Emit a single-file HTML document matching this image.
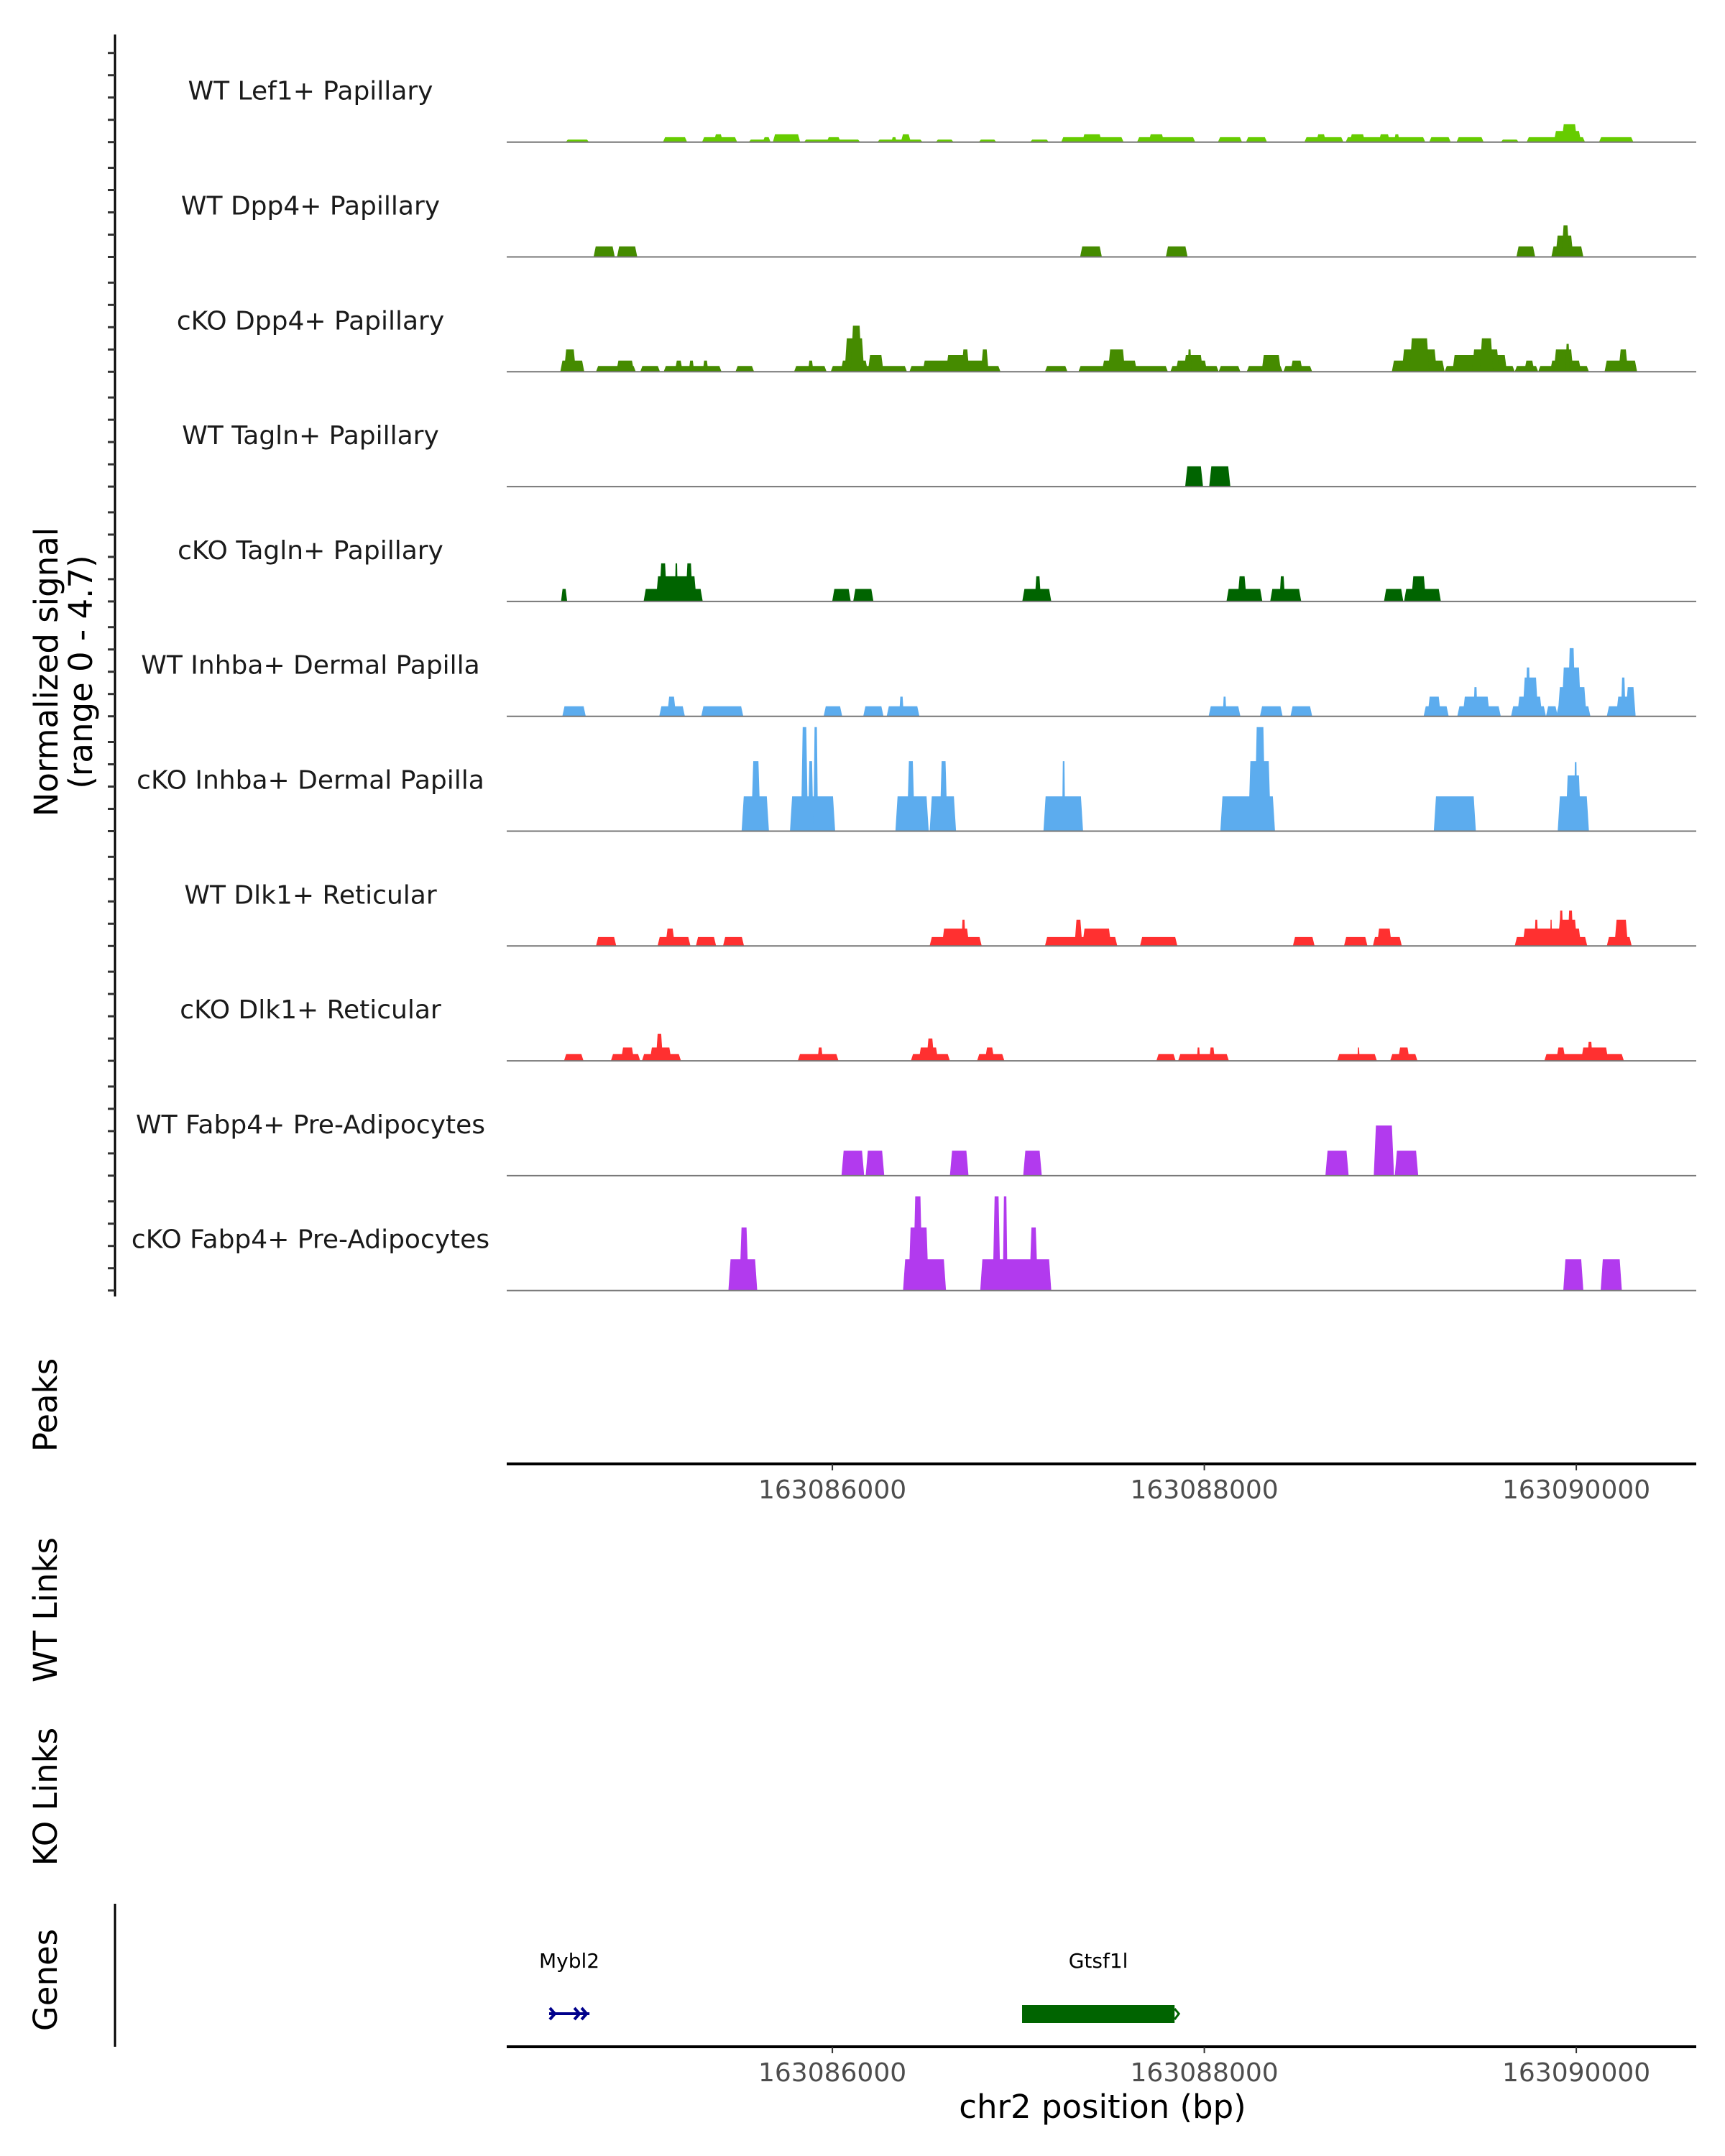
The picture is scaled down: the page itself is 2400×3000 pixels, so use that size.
<!DOCTYPE html>
<html><head><meta charset="utf-8">
<style>
html,body{margin:0;padding:0;background:#fff;}
svg{display:block;font-family:"DejaVu Sans","Liberation Sans",sans-serif;}
</style></head>
<body>
<svg id="chart" width="2400" height="3000" viewBox="0 0 2400 3000" xmlns="http://www.w3.org/2000/svg">
  <rect width="2400" height="3000" fill="#fff"/>
  <g id="tracks"></g>
  <g id="yaxis"></g>
  <text transform="translate(80,935) rotate(-90)" text-anchor="middle" font-size="45" fill="#000">Normalized signal</text>
  <text transform="translate(128,935) rotate(-90)" text-anchor="middle" font-size="45" fill="#000">(range 0 - 4.7)</text>
  <text transform="translate(79,1955) rotate(-90)" text-anchor="middle" font-size="45" fill="#000">Peaks</text>
  <text transform="translate(79,2240) rotate(-90)" text-anchor="middle" font-size="45" fill="#000">WT Links</text>
  <text transform="translate(79,2500) rotate(-90)" text-anchor="middle" font-size="45" fill="#000">KO Links</text>
  <text transform="translate(79,2755) rotate(-90)" text-anchor="middle" font-size="45" fill="#000">Genes</text>
  <line x1="160" y1="2649" x2="160" y2="2848" stroke="#000" stroke-width="3"/>
  <g id="xaxes"></g>
  <g id="genes"></g>
  <text x="1534" y="2947" text-anchor="middle" font-size="45" fill="#000">chr2 position (bp)</text>
</svg>
<script>
// genomic positions are bp offsets from chr2:163084000
const regionStart = 163084000;
const domainStart = 249, domainEnd = 6645;
const xTicks = [2000, 4000, 6000];
const xTickLabels = ["163086000", "163088000", "163090000"];
const trackNames = ["WT Lef1+ Papillary","WT Dpp4+ Papillary","cKO Dpp4+ Papillary","WT Tagln+ Papillary","cKO Tagln+ Papillary","WT Inhba+ Dermal Papilla","cKO Inhba+ Dermal Papilla","WT Dlk1+ Reticular","cKO Dlk1+ Reticular","WT Fabp4+ Pre-Adipocytes","cKO Fabp4+ Pre-Adipocytes"];
const trackColors = ["#66cc00","#458b00","#458b00","#006400","#006400","#5cacee","#5cacee","#ff3030","#ff3030","#b23aee","#b23aee"];
// [start, end, signal]
const lef1Wt = [[566,692,0.11],[1089,1219,0.22],[1299,1488,0.22],[1362,1412,0.35],[1550,1668,0.11],[1625,1668,0.22],[1680,1827,0.35],[1847,2150,0.11],[1969,2045,0.22],[2242,2485,0.11],[2317,2346,0.22],[2368,2422,0.35],[2556,2652,0.11],[2787,2882,0.11],[3063,3164,0.11],[3230,3566,0.22],[3343,3449,0.35],[3638,3951,0.22],[3700,3784,0.35],[4073,4203,0.22],[4224,4337,0.22],[4538,4748,0.22],[4601,4655,0.35],[4760,5188,0.22],[4781,4865,0.35],[4937,4999,0.35],[5020,5050,0.35],[5209,5325,0.22],[5356,5502,0.22],[5594,5691,0.11],[5733,6047,0.22],[5879,6026,0.5],[5921,6005,0.8],[6122,6307,0.22]];
const dpp4Wt = [[716,830,0.47],[842,951,0.47],[3332,3449,0.47],[3793,3910,0.47],[5678,5779,0.47],[5866,6038,0.47],[5888,5984,0.96],[5921,5963,1.42]];
const dpp4Ko = [[537,666,0.5],[557,621,1.0],[729,943,0.26],[838,934,0.5],[967,1073,0.26],[1093,1404,0.26],[1153,1195,0.5],[1228,1257,0.5],[1303,1333,0.5],[1479,1579,0.26],[1794,1969,0.26],[1869,1898,0.5],[1991,2401,0.26],[2045,2191,0.5],[2066,2171,1.5],[2099,2158,2.07],[2191,2275,0.75],[2414,2904,0.26],[2485,2840,0.5],[2611,2736,0.75],[2694,2736,1.0],[2799,2840,1.0],[3143,3264,0.26],[3323,3804,0.26],[3449,3638,0.5],[3482,3574,1.0],[3817,4077,0.26],[3846,4015,0.5],[3889,3993,0.75],[3910,3931,1.0],[4077,4194,0.26],[4228,4421,0.26],[4308,4412,0.75],[4425,4580,0.26],[4463,4529,0.5],[5008,5292,0.5],[5062,5250,1.0],[5104,5209,1.5],[5292,5669,0.26],[5334,5627,0.75],[5439,5586,1.0],[5481,5553,1.5],[5669,5795,0.26],[5720,5775,0.5],[5795,6068,0.26],[5859,6026,0.5],[5879,5984,1.0],[5942,5965,1.25],[6152,6327,0.5],[6227,6278,1.0]];
const taglnWt = [[3897,3993,0.91],[4026,4140,0.91]];
const taglnKo = [[541,574,0.56],[985,1303,0.56],[1051,1270,1.13],[1069,1111,1.71],[1153,1169,1.71],[1211,1249,1.71],[1999,2099,0.56],[2112,2221,0.56],[3021,3177,0.56],[3088,3122,1.13],[4119,4312,0.56],[4178,4228,1.13],[4354,4521,0.56],[4404,4434,1.13],[4966,5070,0.56],[5074,5272,0.56],[5112,5192,1.13]];
const inhbaWt = [[548,674,0.45],[1069,1207,0.45],[1111,1160,0.88],[1295,1521,0.45],[1953,2053,0.45],[2166,2275,0.45],[2292,2468,0.45],[2359,2384,0.88],[4023,4194,0.45],[4099,4119,0.88],[4299,4421,0.45],[4463,4580,0.45],[5179,5314,0.45],[5200,5272,0.88],[5360,5594,0.45],[5389,5535,0.88],[5447,5469,1.31],[5649,5837,0.45],[5682,5817,0.88],[5711,5795,1.74],[5728,5753,2.19],[5837,5900,0.45],[5892,6076,0.45],[5900,6055,1.31],[5921,6026,2.19],[5954,5996,3.06],[6164,6319,0.45],[6214,6319,0.88],[6240,6265,1.74],[6265,6319,1.31]];
const inhbaKo = [[1512,1659,1.56],[1563,1614,3.14],[1772,2015,1.56],[1831,1869,4.67],[1869,1898,3.14],[1898,1923,4.67],[2339,2518,1.56],[2401,2443,3.14],[2523,2665,1.56],[2577,2619,3.14],[3135,3348,1.56],[3235,3252,3.14],[4086,4380,1.56],[4236,4358,3.14],[4270,4329,4.67],[5234,5460,1.56],[5900,6068,1.56],[5942,6026,2.5],[5988,6005,3.1]];
const dlk1Wt = [[729,838,0.4],[1060,1237,0.4],[1102,1153,0.78],[1266,1375,0.4],[1412,1525,0.4],[2523,2803,0.4],[2589,2736,0.78],[2694,2716,1.18],[3143,3532,0.4],[3302,3344,1.18],[3344,3499,0.78],[3654,3855,0.4],[4476,4593,0.4],[4751,4877,0.4],[4906,5062,0.4],[4928,5008,0.78],[5669,6059,0.4],[5711,6026,0.78],[5775,5795,1.18],[5859,5870,1.18],[5900,6005,1.18],[5908,5930,1.59],[5954,5984,1.59],[6164,6298,0.4],[6205,6278,1.18]];
const dlk1Ko = [[557,662,0.3],[809,967,0.3],[863,934,0.6],[976,1186,0.3],[1018,1135,0.6],[1051,1089,1.21],[1814,2033,0.3],[1920,1949,0.6],[2422,2632,0.3],[2464,2569,0.6],[2506,2548,1.0],[2778,2925,0.3],[2820,2871,0.6],[3742,3846,0.3],[3859,4132,0.3],[3960,3977,0.6],[4026,4057,0.6],[4714,4928,0.3],[4823,4835,0.6],[4999,5146,0.3],[5041,5104,0.6],[5828,6256,0.3],[5892,5942,0.6],[6026,6172,0.6],[6059,6088,0.85]];
const fabp4Wt = [[2049,2171,1.12],[2179,2279,1.12],[2632,2732,1.12],[3026,3126,1.12],[4651,4776,1.12],[4911,5020,2.25],[5024,5150,1.12]];
const fabp4Ko = [[1441,1596,1.4],[1500,1550,2.83],[2380,2611,1.4],[2409,2518,2.83],[2434,2485,4.23],[2795,3177,1.4],[2862,2904,4.23],[2916,2942,4.23],[3059,3105,2.83],[5930,6038,1.4],[6131,6245,1.4]];
const geneNames = ["Mybl2","Gtsf1l"];
const geneStarts = [477, 3020];
const geneEnds = [694, 3840];

const trackData = [lef1Wt,dpp4Wt,dpp4Ko,taglnWt,taglnKo,inhbaWt,inhbaKo,dlk1Wt,dlk1Ko,fabp4Wt,fabp4Ko];
const NS = "http://www.w3.org/2000/svg";
const X0 = 705, X1 = 2360;
function xScale(v){ return X0 + (v - domainStart) / (domainEnd - domainStart) * (X1 - X0); }
const trackTop = 197.7, trackStep = 159.8, pxPerUnit = 31;
function baseY(i){ return trackTop + i * trackStep; }
function yScale(i, v){ return baseY(i) - v * pxPerUnit; }
function mk(tag, attrs, parent){ const e = document.createElementNS(NS, tag); for (const k in attrs) e.setAttribute(k, attrs[k]); parent.appendChild(e); return e; }

const tracksG = document.getElementById('tracks');
trackData.forEach((peaks, i) => {
  const g = mk('g', {}, tracksG);
  
  
  const lab = mk('text', {x: 432, y: baseY(i) - 59, 'text-anchor': 'middle', 'font-size': 36, fill: '#1a1a1a'}, g);
  lab.textContent = trackNames[i];
  
  
  peaks.forEach(p => {
    const xa = xScale(p[0]), xb = xScale(p[1]);
    const yb = baseY(i), yt = yScale(i, p[2]);
    const s = Math.min(3, (xb - xa) / 4);
    const poly = mk('polygon', {points: `${xa},${yb} ${xa+s},${yt} ${xb-s},${yt} ${xb},${yb}`, fill: trackColors[i]}, g);
    
    
  });
  const bl = mk('line', {x1: X0, x2: X1, y1: baseY(i), y2: baseY(i), stroke: '#777', 'stroke-width': 2}, g);
  
  
});

const ya = document.getElementById('yaxis');
const axl = mk('line', {x1: 160, x2: 160, y1: 48, y2: 1804, stroke: '#000', 'stroke-width': 3}, ya);


for (let i = 0; i < trackData.length; i++) {
  for (let k = 0; k <= 4; k++) {
    const y = yScale(i, k);
    const t = mk('line', {x1: 150, x2: 160, y1: y, y2: y, stroke: '#333', 'stroke-width': 3}, ya);
    
    
  }
}

const xa = document.getElementById('xaxes');
[[2037, 2085], [2848, 2896]].forEach((ax, j) => {
  const l = mk('line', {x1: X0, x2: X1, y1: ax[0], y2: ax[0], stroke: '#000', 'stroke-width': 4}, xa);
  
  
  xTicks.forEach((t, k) => {
    const x = xScale(t);
    const tk = mk('line', {x1: x, x2: x, y1: ax[0], y2: ax[0] + 9, stroke: '#333', 'stroke-width': 2}, xa);
    
    
    const tl = mk('text', {x: x, y: ax[1], 'text-anchor': 'middle', 'font-size': 36, fill: '#4d4d4d'}, xa);
    tl.textContent = xTickLabels[k];
    
    
  });
});

const gg = document.getElementById('genes');
geneNames.forEach((n, i) => {
  const xa0 = xScale(geneStarts[i]), xb0 = xScale(geneEnds[i]);
  const lab = mk('text', {x: (xa0 + xb0) / 2, y: 2738, 'text-anchor': 'middle', 'font-size': 28, fill: '#000'}, gg);
  lab.textContent = n;
  
  
  if (i === 0) {
    const g = mk('g', {stroke: '#00008b', 'stroke-width': 4, fill: 'none'}, gg);
    
    
    mk('line', {x1: xa0, x2: xb0, y1: 2802, y2: 2802}, g);
    [xa0 + 8, xb0 - 14, xb0 - 4].forEach(x => mk('polyline', {points: `${x-7},2794 ${x},2802 ${x-7},2810`}, g));
  } else {
    const r = mk('rect', {x: xa0, y: 2790, width: xb0 - xa0, height: 25, fill: '#006400'}, gg);
    
    
    mk('polyline', {points: `${xb0},2795 ${xb0+6},2802 ${xb0},2810`, stroke: '#006400', 'stroke-width': 3, fill: 'none'}, gg);
  }
});
</script>
</body></html>
